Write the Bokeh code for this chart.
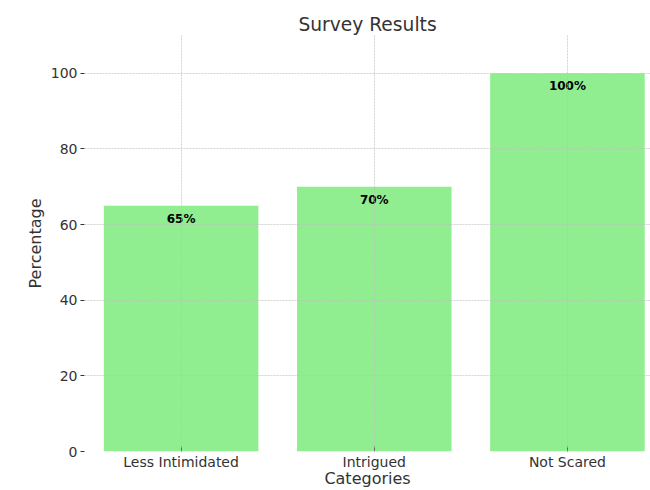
from bokeh.plotting import figure
from bokeh.models import ColumnDataSource, FixedTicker, Range1d
from bokeh.core.properties import value
from bokeh.embed import file_html
from bokeh.resources import INLINE

# Survey data
categories = ["Less Intimidated", "Intrigued", "Not Scared"]
percentages = [65, 70, 100]
y_ticks = [0, 20, 40, 60, 80, 100]

FONT = "DejaVu Sans"
TEXT = "#333333"

positions = list(range(len(categories)))
source = ColumnDataSource(dict(
    x=positions,
    top=percentages,
    label=[f"{v}%" for v in percentages],
))

p = figure(
    width=650, height=490,
    x_range=Range1d(-0.5, 2.43),
    y_range=Range1d(0, 110),
    output_backend="svg", toolbar_location=None,
    min_border_left=84, min_border_right=0,
    min_border_top=35, min_border_bottom=30,
    title="Survey Results",
)
p.outline_line_color = None
p.background_fill_color = "white"
p.border_fill_color = "white"

p.title.align = "center"
p.title.offset = 7
p.title.text_font = FONT
p.title.text_font_size = "14pt"
p.title.text_font_style = "normal"
p.title.text_color = TEXT
p.title.standoff = 2

p.vbar(x="x", top="top", width=0.8, bottom=0, source=source,
       fill_color="#90EE90", line_color=None)

p.text(x="x", y="top", text="label", source=source,
       text_align="center", text_baseline="top", y_offset=6,
       text_font=value(FONT), text_font_size="9pt",
       text_font_style="bold", text_color="black")

for ax in (p.xaxis[0], p.yaxis[0]):
    ax.axis_line_color = None
    ax.major_tick_line_color = TEXT
    ax.minor_tick_line_color = None
    ax.major_label_text_font = FONT
    ax.major_label_text_font_size = "10.5pt"
    ax.major_label_text_color = TEXT
    ax.axis_label_text_font = FONT
    ax.axis_label_text_font_size = "12pt"
    ax.axis_label_text_font_style = "normal"
    ax.axis_label_text_color = TEXT

# category axis: short inward ticks, labels tucked under the bars
p.xaxis.ticker = FixedTicker(ticks=positions)
p.xaxis.major_label_overrides = {i: c for i, c in enumerate(categories)}
p.xaxis.axis_label = "Categories"
p.xaxis.major_tick_in = 5
p.xaxis.major_tick_out = 0
p.xaxis.major_label_standoff = 2
p.xaxis.axis_label_standoff = -4

p.yaxis.ticker = FixedTicker(ticks=y_ticks)
p.yaxis.axis_label = "Percentage"
p.yaxis.major_tick_in = 0
p.yaxis.major_tick_out = 4
p.yaxis.major_label_standoff = 3
p.yaxis.axis_label_standoff = 3

for g in (p.xgrid[0], p.ygrid[0]):
    g.grid_line_color = "#c0c0c0"
    g.grid_line_dash = "2 1"
    g.grid_line_width = 0.7
    g.level = "overlay"

p.xgrid.ticker = FixedTicker(ticks=positions)
p.ygrid.ticker = FixedTicker(ticks=y_ticks)

open("out.html", "w").write(file_html(p, INLINE))
